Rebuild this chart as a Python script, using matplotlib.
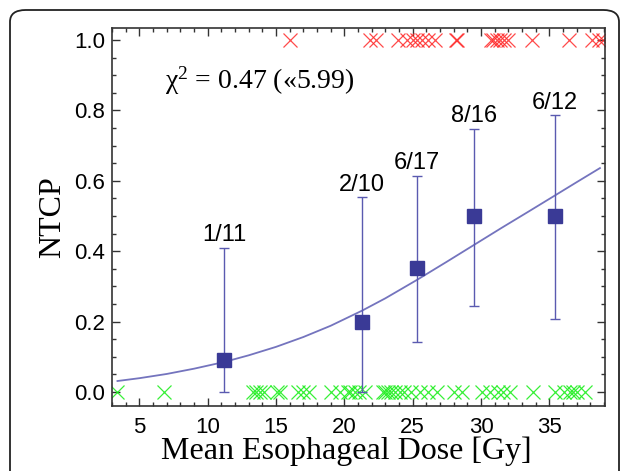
import matplotlib
matplotlib.use("Agg")
import matplotlib.pyplot as plt
from matplotlib.ticker import MultipleLocator, FixedLocator
from matplotlib.patches import FancyBboxPatch

# Binned observations: mean dose per bin, observed complication rate, 68% CI
bin_dose = [11.2, 21.3, 25.3, 29.5, 35.4]
bin_events = [1, 2, 6, 8, 6]
bin_total = [11, 10, 17, 16, 12]
ci_low = [0.0, 0.0, 0.141, 0.244, 0.208]
ci_high = [0.41, 0.554, 0.614, 0.748, 0.787]
bin_labels = ["1/11", "2/10", "6/17", "8/16", "6/12"]

# Fitted NTCP curve samples
curve_dose = [3.4, 5.0, 7.0, 9.0, 11.2, 13.0, 15.0, 17.0, 19.0, 21.3, 23.0, 25.3,
              27.5, 29.5, 31.5, 33.5, 35.4, 37.0, 38.7]
curve_ntcp = [0.031, 0.039, 0.051, 0.066, 0.085, 0.104, 0.128, 0.156, 0.188, 0.231,
              0.266, 0.318, 0.370, 0.418, 0.466, 0.513, 0.558, 0.596, 0.636]

# Individual patients: with complication (NTCP=1) and without (NTCP=0)
dose_with = [16.0, 21.9, 22.3, 23.9, 24.6, 25.0, 25.3, 25.7, 26.1, 26.6, 28.2, 28.25,
             30.7, 30.9, 31.2, 31.4, 31.7, 32.0, 33.7, 36.4, 38.1, 38.6, 38.9]
dose_without = [3.4, 6.8, 13.3, 13.5, 13.8, 14.1, 15.1, 15.3, 16.6, 17.0, 17.4, 19.0,
                19.7, 20.3, 20.4, 20.8, 21.1, 21.5, 22.8, 23.0, 23.2, 23.4, 23.7, 24.1,
                24.4, 24.9, 25.5, 26.1, 26.8, 28.0, 28.6, 30.05, 30.65, 31.25, 31.6,
                32.1, 33.8, 35.4, 36.1, 36.5, 36.7, 37.0, 37.6]

chi_text = "\u03c7${}^{2}$ = 0.47 (\u00ab5.99)"

SANS = "Liberation Sans"
SERIF = "Liberation Serif"
plt.rcParams["mathtext.fontset"] = "custom"
plt.rcParams["mathtext.rm"] = SERIF
plt.rcParams["mathtext.it"] = SERIF + ":italic"
plt.rcParams["mathtext.default"] = "rm"

fig = plt.figure(figsize=(6.29, 4.71), dpi=100)
fig.patch.set_facecolor("white")

# rounded frame around the panel
frame = FancyBboxPatch((10 / 629, -0.2), 609 / 629, 1.0 - 10 / 471 + 0.2,
                       boxstyle="round,pad=0,rounding_size=0.025",
                       transform=fig.transFigure, facecolor="none",
                       edgecolor="#222222", linewidth=1.3)
fig.patches.append(frame)

ax = fig.add_axes([112 / 629, 1 - 406 / 471, (605 - 112) / 629, (406 - 28) / 471])

rate = [e / n for e, n in zip(bin_events, bin_total)]

ax.plot(dose_with, [1.0] * len(dose_with), linestyle="none", marker="x",
        markersize=10, markeredgewidth=0.9, color="#ff2a2a", alpha=0.85)
ax.plot(dose_without, [0.0] * len(dose_without), linestyle="none", marker="x",
        markersize=10, markeredgewidth=0.9, color="#22ee22", alpha=0.9)

ax.plot(curve_dose, curve_ntcp, color="#7474be", linewidth=1.3)

yerr = [[r - lo for r, lo in zip(rate, ci_low)], [hi - r for r, hi in zip(rate, ci_high)]]
ax.errorbar(bin_dose, rate, yerr=yerr, fmt="none", ecolor="#5a5ab0",
            elinewidth=1.0, capsize=3.5, capthick=1.0)
ax.plot(bin_dose, rate, linestyle="none", marker="s", markersize=9.5,
        color="#3a3a96", markeredgecolor="#3a3a96")

for x, hi, lab in zip(bin_dose, ci_high, bin_labels):
    ax.text(x, hi + 0.018, lab, ha="center", va="baseline",
            fontsize=17, family=SANS, color="#000000")

ax.text(6.9, 0.862, chi_text, ha="left", va="baseline", fontsize=20,
        family=SERIF, color="#000000")

ax.set_xlim(3.0, 39.07)
ax.set_ylim(-0.04, 1.034)
ax.xaxis.set_major_locator(FixedLocator([5, 10, 15, 20, 25, 30, 35]))
ax.xaxis.set_minor_locator(MultipleLocator(1))
ax.yaxis.set_major_locator(FixedLocator([0.0, 0.2, 0.4, 0.6, 0.8, 1.0]))
ax.yaxis.set_minor_locator(MultipleLocator(0.05))
ax.set_yticklabels(["0.0", "0.2", "0.4", "0.6", "0.8", "1.0"])

ax.tick_params(which="both", direction="in", top=True, right=True,
               color="#333333", width=1.0)
ax.tick_params(which="major", length=6, labelsize=16)
ax.tick_params(axis="x", which="major", pad=8)
ax.tick_params(axis="y", which="major", pad=5)
ax.tick_params(which="minor", length=3)
for lab in ax.get_xticklabels() + ax.get_yticklabels():
    lab.set_family(SANS)
    lab.set_color("#000000")
for s in ax.spines.values():
    s.set_linewidth(1.2)
    s.set_color("#333333")

ax.set_xlabel("Mean Esophageal Dose [Gy]", fontsize=23, family=SERIF)
ax.xaxis.set_label_coords(0.475, -0.08)
ax.xaxis.label.set_va("top")
ax.set_ylabel("NTCP", fontsize=23, family=SERIF, labelpad=5)

fig.savefig("out.png", dpi=100)
